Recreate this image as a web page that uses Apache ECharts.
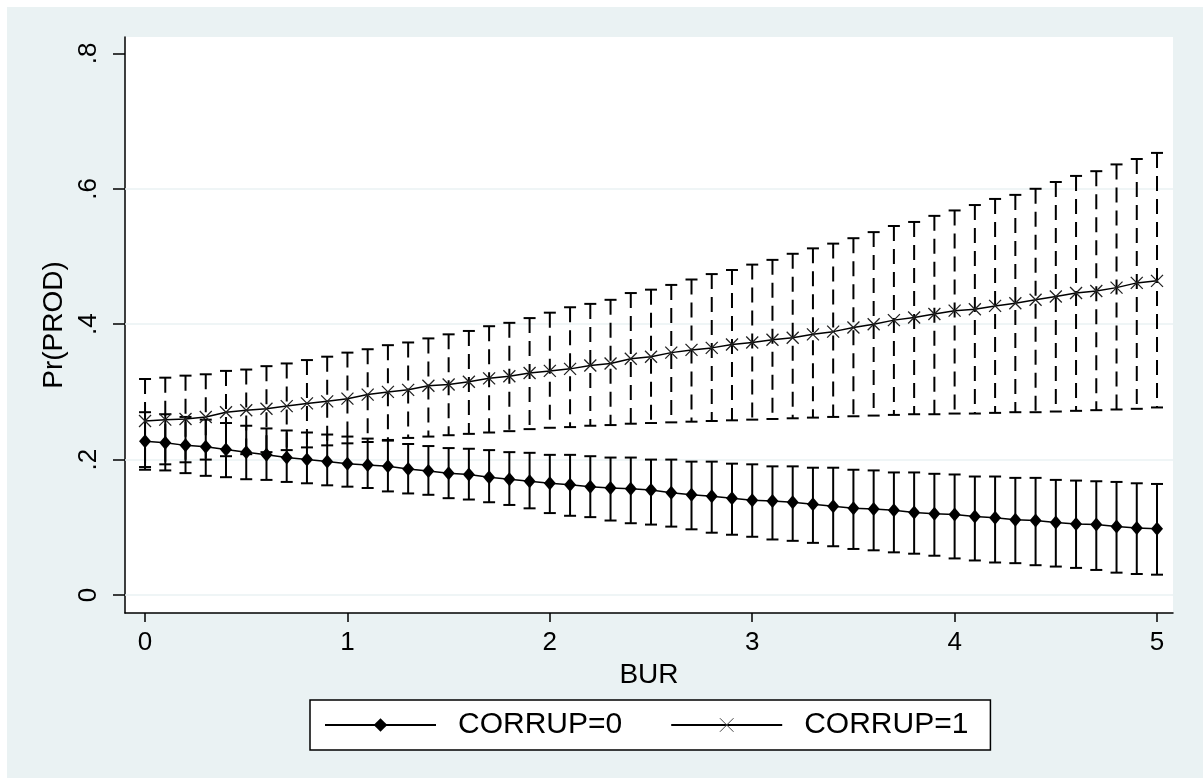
<!DOCTYPE html>
<html>
<head>
<meta charset="utf-8">
<title>Pr(PROD) vs BUR</title>
<script src="https://cdn.jsdelivr.net/npm/echarts@6/dist/echarts.min.js"></script>
<style>
	html, body { margin: 0; padding: 0; background: #fff; }
	#wrap { position: absolute; left: 7px; top: 7px; width: 1196px; height: 771px; }
</style>
</head>
<body>
<div id="wrap"></div>
<script>
// BUR values (x axis)
var bur = [0, 0.1, 0.2, 0.3, 0.4, 0.5, 0.6, 0.7, 0.8, 0.9,
	1, 1.1, 1.2, 1.3, 1.4, 1.5, 1.6, 1.7, 1.8, 1.9,
	2, 2.1, 2.2, 2.3, 2.4, 2.5, 2.6, 2.7, 2.8, 2.9,
	3, 3.1, 3.2, 3.3, 3.4, 3.5, 3.6, 3.7, 3.8, 3.9,
	4, 4.1, 4.2, 4.3, 4.4, 4.5, 4.6, 4.7, 4.8, 4.9, 5];

// CORRUP=0: predicted prob and CI
var prob0 = [.227, .225, .221, .219, .215, .211, .207, .203, .200, .197,
	.194, .192, .190, .186, .183, .180, .178, .174, .171, .168,
	.165, .163, .160, .158, .157, .155, .151, .148, .146, .143,
	.140, .139, .137, .134, .131, .128, .127, .125, .122, .120,
	.119, .116, .114, .111, .110, .107, .105, .104, .101, .099, .098];
var hi0 = [.270, .267, .263, .259, .254, .250, .246, .243, .240, .237,
	.234, .231, .228, .223, .220, .217, .216, .214, .211, .210,
	.207, .207, .205, .203, .203, .200, .200, .197, .197, .194,
	.193, .190, .190, .188, .188, .185, .184, .181, .181, .179,
	.178, .175, .175, .173, .173, .170, .169, .168, .167, .165, .164];
var lo0 = [.185, .184, .180, .176, .174, .171, .170, .167, .165, .162,
	.160, .158, .153, .150, .148, .143, .141, .137, .133, .128,
	.121, .117, .115, .110, .106, .104, .101, .097, .092, .089,
	.086, .082, .080, .077, .072, .068, .066, .063, .061, .058,
	.054, .051, .048, .047, .044, .042, .040, .037, .033, .031, .030];

// CORRUP=1: predicted prob and CI
var prob1 = [.257, .259, .260, .263, .270, .273, .275, .279, .283, .286,
	.290, .296, .300, .303, .309, .311, .315, .320, .323, .328,
	.331, .334, .339, .342, .349, .352, .358, .362, .365, .370,
	.373, .377, .380, .385, .389, .395, .400, .406, .410, .415,
	.420, .422, .427, .431, .436, .441, .446, .449, .454, .461, .464];
var hi1 = [.319, .321, .324, .326, .331, .333, .338, .342, .347, .352,
	.358, .363, .369, .373, .379, .385, .390, .397, .402, .409,
	.417, .425, .430, .436, .446, .451, .458, .466, .474, .480,
	.488, .495, .504, .512, .519, .527, .536, .545, .551, .560,
	.568, .576, .585, .591, .600, .610, .619, .626, .636, .644, .653];
var lo1 = [.189, .193, .196, .200, .205, .208, .211, .214, .218, .221,
	.224, .226, .229, .232, .234, .236, .238, .240, .242, .245,
	.247, .248, .250, .251, .253, .254, .255, .256, .257, .258,
	.259, .260, .261, .262, .263, .264, .265, .266, .267, .267,
	.268, .268, .269, .270, .270, .271, .272, .273, .274, .275, .277];

// tick values / labels
var xTicks = [0, 1, 2, 3, 4, 5];
var yTicks = [0, 0.2, 0.4, 0.6, 0.8];
var yTickLabels = ['0', '.2', '.4', '.6', '.8'];
var gridValues = [0, 0.2, 0.4, 0.6];

var FONT = 'Liberation Sans, Arial, sans-serif';

function pairs(xs, ys) {
	var out = [];
	for (var i = 0; i < xs.length; i++) out.push([xs[i], ys[i]]);
	return out;
}

function triples(xs, lo, hi) {
	var out = [];
	for (var i = 0; i < xs.length; i++) out.push([xs[i], lo[i], hi[i]]);
	return out;
}

// 误差线: vertical line + caps
function errorBar(dash) {
	return function (params, api) {
		var x = api.value(0);
		var lo = api.coord([x, api.value(1)]);
		var hi = api.coord([x, api.value(2)]);
		var half = 6;
		var capStyle = { stroke: '#000', lineWidth: 2 };
		return {
			type: 'group',
			children: [{
				type: 'line',
				shape: { x1: hi[0], y1: hi[1], x2: lo[0], y2: lo[1] },
				style: { stroke: '#000', lineWidth: 2, lineDash: dash }
			}, {
				type: 'line',
				shape: { x1: hi[0] - half, y1: hi[1], x2: hi[0] + half, y2: hi[1] },
				style: capStyle
			}, {
				type: 'line',
				shape: { x1: lo[0] - half, y1: lo[1], x2: lo[0] + half, y2: lo[1] },
				style: capStyle
			}]
		};
	};
}

var myChart = echarts.init(document.getElementById('wrap'), null, { renderer: 'canvas' });

var option = {
	backgroundColor: '#eaf2f3',
	animation: false,
	textStyle: { fontFamily: FONT, color: '#000' },
	grid: {
		left: 118,
		right: 30,
		top: 30,
		bottom: 165,
		show: true,
		backgroundColor: '#fff',
		borderWidth: 0
	},
	legend: {
		left: 303,
		top: 693,
		orient: 'horizontal',
		backgroundColor: '#fff',
		borderColor: '#000',
		borderWidth: 1.5,
		borderRadius: 0,
		padding: [10, 22, 10, 14],
		itemWidth: 111,
		itemHeight: 17,
		itemGap: 48,
		textStyle: { fontFamily: FONT, fontSize: 30, color: '#000', padding: [0, 0, 0, 17] },
		data: [{
			name: 'CORRUP=0'
		}, {
			name: 'CORRUP=1',
			itemStyle: { borderColor: '#444', borderWidth: 1 }
		}]
	},
	xAxis: {
		type: 'value',
		min: -0.099,
		max: 5.079,
		name: 'BUR',
		nameLocation: 'middle',
		nameGap: 37,
		nameTextStyle: { fontFamily: FONT, fontSize: 28, color: '#000' },
		axisLine: { show: true, onZero: false, lineStyle: { color: '#000', width: 1.5 } },
		axisTick: { show: true, length: 9, customValues: xTicks, lineStyle: { color: '#000', width: 1.5 } },
		axisLabel: { customValues: xTicks, margin: 17, fontSize: 26, color: '#000', fontFamily: FONT },
		splitLine: { show: false }
	},
	yAxis: {
		type: 'value',
		min: -0.0266,
		max: 0.8242,
		name: 'Pr(PROD)',
		nameLocation: 'middle',
		nameGap: 53,
		nameTextStyle: { fontFamily: FONT, fontSize: 28, color: '#000' },
		axisLine: { show: true, onZero: false, lineStyle: { color: '#000', width: 1.5 } },
		axisTick: { show: true, length: 12, customValues: yTicks, lineStyle: { color: '#000', width: 1.5 } },
		axisLabel: {
			customValues: yTicks,
			rotate: 90,
			margin: 23,
			fontSize: 26,
			color: '#000',
			fontFamily: FONT,
			formatter: function (v) {
				for (var i = 0; i < yTicks.length; i++) {
					if (Math.abs(yTicks[i] - v) < 1e-9) return yTickLabels[i];
				}
				return '';
			}
		},
		splitLine: { show: false }
	},
	series: [{
		name: 'ci0',
		type: 'custom',
		z: 2,
		silent: true,
		renderItem: errorBar(null),
		data: triples(bur, lo0, hi0),
		markLine: {
			silent: true,
			z: 1,
			symbol: 'none',
			label: { show: false },
			lineStyle: { color: '#eaf2f3', width: 1.5, type: 'solid' },
			data: gridValues.map(function (v) { return { yAxis: v }; })
		}
	}, {
		name: 'ci1',
		type: 'custom',
		z: 2,
		silent: true,
		renderItem: errorBar([15, 8]),
		data: triples(bur, lo1, hi1)
	}, {
		name: 'CORRUP=0',
		type: 'line',
		z: 3,
		data: pairs(bur, prob0),
		symbol: 'diamond',
		symbolSize: [12, 14],
		itemStyle: { color: '#000' },
		lineStyle: { color: '#000', width: 1.5 }
	}, {
		name: 'CORRUP=1',
		type: 'line',
		z: 3,
		data: pairs(bur, prob1),
		symbol: 'path://M0,0L10,10M10,0L0,10',
		symbolSize: 12,
		itemStyle: { color: '#000', borderColor: '#222', borderWidth: 1.3 },
		lineStyle: { color: '#000', width: 1.5 }
	}]
};

myChart.setOption(option);
</script>
</body>
</html>
